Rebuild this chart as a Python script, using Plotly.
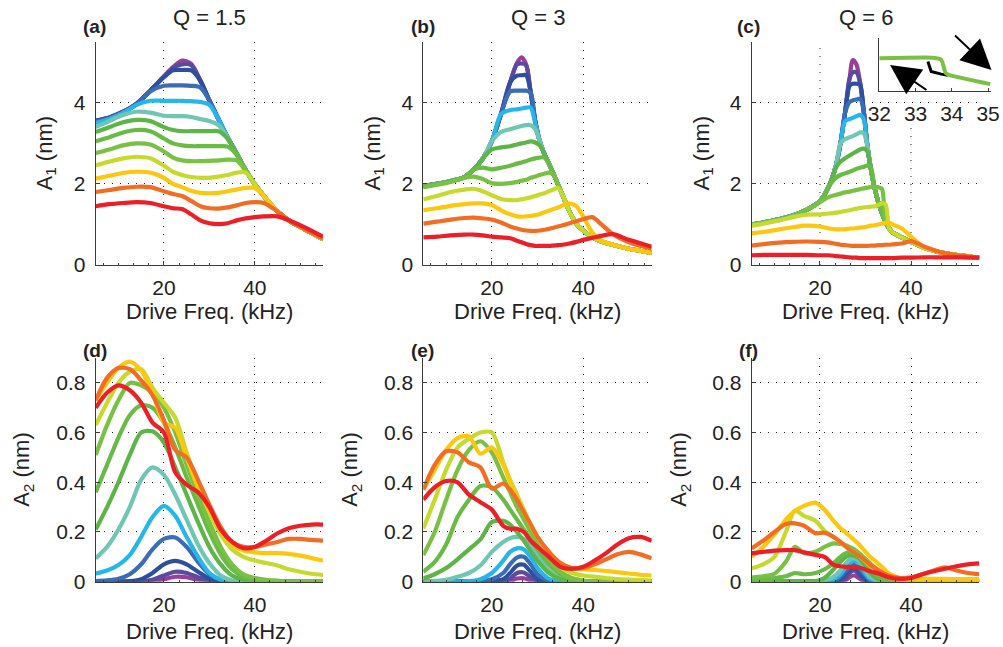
import plotly.graph_objects as go

# ---------------- data ----------------
colors = ["#9a3f98", "#5b4ba0", "#2e4f9e", "#3b6cb6", "#27b6ea", "#6fc6b5",
          "#5db547", "#69bb45", "#79c143", "#c6da2d", "#fec70f", "#f36c23", "#ec1f26"]
curve_names = ["purple", "violet", "dark blue", "blue", "light blue", "teal",
               "green 1", "green 2", "green 3", "yellow-green", "yellow", "orange", "red"]

# (a) A1, Q = 1.5
x_a = [5, 8, 11, 14, 17, 20, 22, 24, 26, 28, 30, 32, 34, 36, 38, 40, 42, 45, 48, 51, 55]
a_curves = [
    [3.56, 3.64, 3.78, 3.98, 4.3, 4.65, 4.88, 5.04, 4.96, 4.55, 4.06, 3.6, 3.15, 2.75, 2.34, 1.99, 1.7, 1.32, 1.06, 0.88, 0.64],
    [3.56, 3.64, 3.78, 3.98, 4.3, 4.65, 4.86, 4.95, 4.93, 4.55, 4.06, 3.6, 3.15, 2.75, 2.34, 1.99, 1.7, 1.32, 1.06, 0.88, 0.64],
    [3.55, 3.63, 3.77, 3.97, 4.3, 4.63, 4.8, 4.81, 4.8, 4.55, 4.06, 3.6, 3.15, 2.75, 2.34, 1.99, 1.7, 1.32, 1.06, 0.88, 0.64],
    [3.54, 3.62, 3.76, 3.96, 4.28, 4.42, 4.43, 4.43, 4.42, 4.38, 4.06, 3.6, 3.15, 2.75, 2.34, 1.99, 1.7, 1.32, 1.06, 0.88, 0.64],
    [3.5, 3.6, 3.75, 3.95, 4.05, 4.05, 4.05, 4.05, 4.04, 4.02, 3.95, 3.6, 3.15, 2.75, 2.34, 1.99, 1.7, 1.32, 1.06, 0.88, 0.64],
    [3.4, 3.55, 3.7, 3.78, 3.76, 3.68, 3.67, 3.67, 3.65, 3.6, 3.55, 3.45, 3.15, 2.75, 2.34, 1.99, 1.7, 1.32, 1.06, 0.88, 0.64],
    [3.28, 3.4, 3.52, 3.58, 3.55, 3.4, 3.33, 3.3, 3.3, 3.3, 3.3, 3.3, 3.12, 2.75, 2.34, 1.99, 1.7, 1.32, 1.06, 0.88, 0.64],
    [3.05, 3.15, 3.27, 3.33, 3.3, 3.12, 3.0, 2.95, 2.93, 2.93, 2.93, 2.93, 2.92, 2.72, 2.34, 1.99, 1.7, 1.32, 1.06, 0.88, 0.64],
    [2.76, 2.85, 2.95, 3.0, 2.97, 2.8, 2.65, 2.58, 2.56, 2.56, 2.57, 2.58, 2.6, 2.58, 2.32, 1.99, 1.7, 1.32, 1.06, 0.88, 0.64],
    [2.46, 2.55, 2.63, 2.67, 2.63, 2.45, 2.3, 2.22, 2.17, 2.15, 2.15, 2.18, 2.22, 2.28, 2.28, 1.99, 1.7, 1.32, 1.06, 0.88, 0.64],
    [2.13, 2.2, 2.27, 2.3, 2.28, 2.15, 2.0, 1.92, 1.83, 1.78, 1.77, 1.78, 1.82, 1.86, 1.9, 1.9, 1.7, 1.32, 1.06, 0.88, 0.64],
    [1.8, 1.85, 1.9, 1.93, 1.92, 1.82, 1.75, 1.7, 1.58, 1.45, 1.4, 1.39, 1.42, 1.47, 1.53, 1.55, 1.53, 1.32, 1.06, 0.88, 0.65],
    [1.45, 1.5, 1.53, 1.55, 1.53, 1.45, 1.4, 1.38, 1.25, 1.1, 1.03, 1.01, 1.03, 1.1, 1.15, 1.18, 1.2, 1.2, 1.08, 0.93, 0.7],
]

# (b) A1, Q = 3
x_b = [5, 8, 11, 14, 16, 18, 20, 22, 24, 25.5, 26.5, 27.5, 28.5, 29.5, 30.5, 31.5, 32.5, 33.5, 34.5, 35.5, 37, 38.5, 40, 42, 44, 46.5, 50, 55]
b_curves = [
    [1.95, 2.0, 2.07, 2.17, 2.35, 2.62, 3.05, 3.72, 4.5, 4.98, 5.12, 4.95, 4.25, 3.55, 3.05, 2.74, 2.5, 2.25, 1.98, 1.72, 1.32, 1.02, 0.85, 0.68, 0.58, 0.5, 0.4, 0.3],
    [1.95, 2.0, 2.07, 2.17, 2.35, 2.62, 3.05, 3.72, 4.5, 4.95, 4.97, 4.93, 4.25, 3.55, 3.05, 2.74, 2.5, 2.25, 1.98, 1.72, 1.32, 1.02, 0.85, 0.68, 0.58, 0.5, 0.4, 0.3],
    [1.95, 2.0, 2.07, 2.17, 2.35, 2.62, 3.05, 3.72, 4.5, 4.67, 4.68, 4.68, 4.28, 3.55, 3.05, 2.74, 2.5, 2.25, 1.98, 1.72, 1.32, 1.02, 0.85, 0.68, 0.58, 0.5, 0.4, 0.3],
    [1.95, 2.0, 2.07, 2.17, 2.35, 2.62, 3.05, 3.72, 4.28, 4.3, 4.3, 4.3, 4.25, 3.55, 3.05, 2.74, 2.5, 2.25, 1.98, 1.72, 1.32, 1.02, 0.85, 0.68, 0.58, 0.5, 0.4, 0.3],
    [1.94, 2.0, 2.07, 2.17, 2.35, 2.62, 3.05, 3.72, 3.82, 3.84, 3.86, 3.88, 3.88, 3.5, 3.05, 2.74, 2.5, 2.25, 1.98, 1.72, 1.32, 1.02, 0.85, 0.68, 0.58, 0.5, 0.4, 0.3],
    [1.94, 2.0, 2.07, 2.17, 2.35, 2.62, 3.05, 3.28, 3.35, 3.4, 3.43, 3.45, 3.45, 3.35, 3.05, 2.74, 2.5, 2.25, 1.98, 1.72, 1.32, 1.02, 0.85, 0.68, 0.58, 0.5, 0.4, 0.3],
    [1.94, 2.0, 2.07, 2.17, 2.35, 2.62, 2.85, 2.9, 2.93, 2.97, 3.0, 3.02, 3.05, 3.02, 2.95, 2.74, 2.5, 2.25, 1.98, 1.72, 1.32, 1.02, 0.85, 0.68, 0.58, 0.5, 0.4, 0.3],
    [1.93, 1.99, 2.06, 2.17, 2.35, 2.4, 2.36, 2.4, 2.45, 2.5, 2.53, 2.56, 2.6, 2.63, 2.65, 2.65, 2.5, 2.25, 1.98, 1.72, 1.32, 1.02, 0.85, 0.68, 0.58, 0.5, 0.4, 0.3],
    [1.92, 1.98, 2.05, 2.15, 2.18, 2.12, 2.02, 2.0, 2.02, 2.05, 2.08, 2.1, 2.15, 2.18, 2.22, 2.25, 2.28, 2.22, 1.98, 1.72, 1.32, 1.02, 0.85, 0.68, 0.58, 0.5, 0.4, 0.3],
    [1.62, 1.7, 1.8, 1.86, 1.88, 1.82, 1.72, 1.63, 1.6, 1.6, 1.62, 1.64, 1.67, 1.7, 1.74, 1.77, 1.82, 1.86, 1.9, 1.72, 1.32, 1.02, 0.85, 0.68, 0.58, 0.5, 0.4, 0.3],
    [1.35, 1.4, 1.46, 1.5, 1.52, 1.52, 1.48, 1.35, 1.25, 1.2, 1.19, 1.2, 1.21, 1.23, 1.26, 1.3, 1.34, 1.38, 1.42, 1.47, 1.52, 1.45, 1.2, 0.8, 0.6, 0.5, 0.4, 0.3],
    [1.02, 1.07, 1.12, 1.16, 1.17, 1.15, 1.12, 1.05, 0.95, 0.9, 0.87, 0.85, 0.84, 0.84, 0.85, 0.87, 0.89, 0.92, 0.95, 0.98, 1.03, 1.08, 1.13, 1.18, 1.0, 0.76, 0.56, 0.4],
    [0.68, 0.7, 0.73, 0.75, 0.75, 0.73, 0.7, 0.68, 0.66, 0.6, 0.56, 0.52, 0.49, 0.47, 0.47, 0.47, 0.47, 0.48, 0.49, 0.5, 0.53, 0.57, 0.62, 0.67, 0.72, 0.76, 0.62, 0.45],
]

# (c) A1, Q = 6
x_c = [5, 8, 11, 14, 17, 20, 22, 23.5, 24.5, 25.5, 26.5, 27.2, 28, 28.8, 29.6, 30.4, 31.2, 32, 32.8, 33.6, 34.4, 35.2, 36, 38, 40, 43, 47, 51, 55]
c_curves = [
    [1.0, 1.06, 1.13, 1.22, 1.36, 1.58, 1.95, 2.45, 3.0, 3.75, 4.6, 5.05, 4.95, 4.5, 3.8, 2.95, 2.35, 1.9, 1.55, 1.28, 1.06, 0.9, 0.8, 0.68, 0.57, 0.42, 0.3, 0.23, 0.18],
    [1.0, 1.06, 1.13, 1.22, 1.36, 1.58, 1.95, 2.45, 3.0, 3.75, 4.6, 4.75, 4.75, 4.5, 3.8, 2.95, 2.35, 1.9, 1.55, 1.28, 1.06, 0.9, 0.8, 0.68, 0.57, 0.42, 0.3, 0.23, 0.18],
    [1.0, 1.06, 1.13, 1.22, 1.36, 1.58, 1.95, 2.45, 3.0, 3.75, 4.42, 4.47, 4.47, 4.45, 3.8, 2.95, 2.35, 1.9, 1.55, 1.28, 1.06, 0.9, 0.8, 0.68, 0.57, 0.42, 0.3, 0.23, 0.18],
    [1.0, 1.06, 1.13, 1.22, 1.36, 1.58, 1.95, 2.45, 3.0, 3.75, 4.02, 4.06, 4.08, 4.1, 3.8, 2.95, 2.35, 1.9, 1.55, 1.28, 1.06, 0.9, 0.8, 0.68, 0.57, 0.42, 0.3, 0.23, 0.18],
    [1.0, 1.06, 1.13, 1.22, 1.36, 1.58, 1.95, 2.45, 3.0, 3.55, 3.6, 3.63, 3.67, 3.7, 3.6, 2.95, 2.35, 1.9, 1.55, 1.28, 1.06, 0.9, 0.8, 0.68, 0.57, 0.42, 0.3, 0.23, 0.18],
    [1.0, 1.06, 1.13, 1.22, 1.36, 1.58, 1.95, 2.45, 3.0, 3.1, 3.15, 3.18, 3.22, 3.27, 3.25, 2.95, 2.35, 1.9, 1.55, 1.28, 1.06, 0.9, 0.8, 0.68, 0.57, 0.42, 0.3, 0.23, 0.18],
    [0.99, 1.05, 1.12, 1.21, 1.35, 1.57, 1.95, 2.4, 2.55, 2.63, 2.7, 2.75, 2.8, 2.85, 2.87, 2.8, 2.35, 1.9, 1.55, 1.28, 1.06, 0.9, 0.8, 0.68, 0.57, 0.42, 0.3, 0.23, 0.18],
    [0.99, 1.05, 1.12, 1.21, 1.35, 1.57, 1.95, 2.15, 2.22, 2.26, 2.3, 2.33, 2.37, 2.4, 2.42, 2.45, 2.4, 1.9, 1.55, 1.28, 1.06, 0.9, 0.8, 0.68, 0.57, 0.42, 0.3, 0.23, 0.18],
    [0.98, 1.04, 1.11, 1.2, 1.36, 1.55, 1.68, 1.73, 1.76, 1.79, 1.81, 1.83, 1.85, 1.87, 1.89, 1.91, 1.92, 1.92, 1.92, 1.88, 1.06, 0.9, 0.8, 0.68, 0.57, 0.42, 0.3, 0.23, 0.18],
    [0.97, 1.03, 1.1, 1.18, 1.24, 1.25, 1.27, 1.29, 1.31, 1.33, 1.35, 1.37, 1.39, 1.41, 1.42, 1.43, 1.44, 1.45, 1.48, 1.52, 1.5, 0.9, 0.8, 0.68, 0.57, 0.42, 0.3, 0.23, 0.18],
    [0.78, 0.82, 0.88, 0.93, 0.97, 0.95, 0.9, 0.88, 0.88, 0.88, 0.9, 0.9, 0.91, 0.92, 0.93, 0.95, 0.97, 0.98, 1.0, 1.02, 1.04, 1.05, 1.0, 0.9, 0.7, 0.42, 0.3, 0.23, 0.18],
    [0.48, 0.52, 0.55, 0.57, 0.58, 0.57, 0.55, 0.52, 0.5, 0.49, 0.48, 0.47, 0.47, 0.47, 0.47, 0.47, 0.48, 0.48, 0.49, 0.49, 0.5, 0.5, 0.51, 0.53, 0.59, 0.45, 0.3, 0.23, 0.18],
    [0.24, 0.25, 0.25, 0.25, 0.25, 0.24, 0.24, 0.22, 0.21, 0.2, 0.19, 0.18, 0.18, 0.17, 0.17, 0.17, 0.17, 0.17, 0.17, 0.17, 0.17, 0.17, 0.17, 0.18, 0.18, 0.19, 0.19, 0.19, 0.18],
]

# (d) A2, Q = 1.5
x_d = [5, 7.5, 10, 12.5, 15, 17.5, 20, 22.5, 25, 27.5, 30, 32.5, 35, 37.5, 40, 42.5, 45, 47.5, 50, 52.5, 55]
d_curves = [
    [0, 0, 0, 0, 0, 0.003, 0.01, 0.02, 0.018, 0.008, 0.002, 0, 0, 0, 0, 0, 0, 0, 0, 0, 0],
    [0, 0, 0, 0, 0.002, 0.008, 0.025, 0.04, 0.035, 0.018, 0.005, 0, 0, 0, 0, 0, 0, 0, 0, 0, 0],
    [0, 0, 0, 0.002, 0.01, 0.035, 0.07, 0.084, 0.07, 0.04, 0.012, 0.002, 0, 0, 0, 0, 0, 0, 0, 0, 0],
    [0.002, 0.005, 0.012, 0.03, 0.07, 0.13, 0.172, 0.178, 0.14, 0.08, 0.03, 0.008, 0.001, 0, 0, 0, 0, 0, 0, 0, 0],
    [0.033, 0.045, 0.067, 0.107, 0.18, 0.26, 0.305, 0.265, 0.18, 0.1, 0.035, 0.008, 0, 0, 0, 0, 0, 0, 0, 0, 0],
    [0.094, 0.14, 0.21, 0.3, 0.41, 0.46, 0.43, 0.35, 0.25, 0.15, 0.075, 0.025, 0.005, 0, 0, 0, 0, 0, 0, 0, 0],
    [0.21, 0.3, 0.4, 0.51, 0.6, 0.605, 0.56, 0.46, 0.35, 0.24, 0.14, 0.07, 0.025, 0.008, 0.002, 0, 0, 0, 0, 0, 0],
    [0.36, 0.47, 0.58, 0.67, 0.71, 0.7, 0.64, 0.54, 0.42, 0.31, 0.2, 0.11, 0.05, 0.02, 0.008, 0.003, 0, 0, 0, 0, 0],
    [0.51, 0.63, 0.73, 0.8, 0.79, 0.76, 0.7, 0.6, 0.47, 0.35, 0.24, 0.14, 0.07, 0.03, 0.015, 0.008, 0.004, 0, 0, 0, 0],
    [0.63, 0.72, 0.8, 0.845, 0.855, 0.78, 0.72, 0.66, 0.52, 0.39, 0.28, 0.19, 0.13, 0.1, 0.085, 0.075, 0.065, 0.05, 0.04, 0.032, 0.027],
    [0.73, 0.8, 0.86, 0.885, 0.85, 0.76, 0.64, 0.62, 0.5, 0.38, 0.29, 0.21, 0.15, 0.125, 0.118, 0.115, 0.115, 0.112, 0.105, 0.095, 0.085],
    [0.73, 0.82, 0.86, 0.855, 0.81, 0.75, 0.65, 0.53, 0.5, 0.41, 0.31, 0.22, 0.16, 0.14, 0.14, 0.15, 0.16, 0.172, 0.172, 0.168, 0.165],
    [0.7, 0.76, 0.79, 0.77, 0.72, 0.64, 0.6, 0.44, 0.39, 0.36, 0.3, 0.21, 0.16, 0.135, 0.14, 0.165, 0.195, 0.215, 0.225, 0.23, 0.23],
]

# (e) A2, Q = 3
x_e = [5, 7.5, 10, 12.5, 15, 17.5, 20, 22.5, 24, 25.5, 27, 28.5, 30, 32.5, 35, 37.5, 40, 42.5, 45, 47.5, 50, 52.5, 55]
e_curves = [
    [0, 0, 0, 0, 0, 0, 0, 0, 0.003, 0.013, 0.014, 0.005, 0, 0, 0, 0, 0, 0, 0, 0, 0, 0, 0],
    [0, 0, 0, 0, 0, 0, 0, 0.002, 0.012, 0.035, 0.037, 0.018, 0.004, 0, 0, 0, 0, 0, 0, 0, 0, 0, 0],
    [0, 0, 0, 0, 0, 0, 0.002, 0.01, 0.035, 0.065, 0.068, 0.04, 0.012, 0, 0, 0, 0, 0, 0, 0, 0, 0, 0],
    [0, 0, 0, 0, 0, 0.002, 0.01, 0.035, 0.07, 0.097, 0.1, 0.07, 0.03, 0.004, 0, 0, 0, 0, 0, 0, 0, 0, 0],
    [0, 0, 0, 0, 0.002, 0.01, 0.035, 0.085, 0.12, 0.134, 0.13, 0.1, 0.055, 0.012, 0, 0, 0, 0, 0, 0, 0, 0, 0],
    [0, 0.003, 0.008, 0.02, 0.035, 0.065, 0.12, 0.16, 0.175, 0.18, 0.172, 0.152, 0.11, 0.045, 0.012, 0, 0, 0, 0, 0, 0, 0, 0],
    [0.013, 0.03, 0.055, 0.09, 0.13, 0.17, 0.24, 0.245, 0.23, 0.2, 0.165, 0.125, 0.085, 0.035, 0.01, 0.002, 0, 0, 0, 0, 0, 0, 0],
    [0.04, 0.08, 0.15, 0.26, 0.33, 0.385, 0.38, 0.33, 0.29, 0.25, 0.21, 0.17, 0.13, 0.07, 0.03, 0.01, 0.003, 0, 0, 0, 0, 0, 0],
    [0.107, 0.2, 0.33, 0.45, 0.53, 0.565, 0.52, 0.42, 0.36, 0.3, 0.25, 0.2, 0.155, 0.09, 0.04, 0.015, 0.005, 0, 0, 0, 0, 0, 0],
    [0.214, 0.33, 0.45, 0.54, 0.575, 0.6, 0.6, 0.48, 0.41, 0.35, 0.29, 0.23, 0.18, 0.11, 0.06, 0.035, 0.025, 0.02, 0.015, 0.01, 0.008, 0.006, 0.005],
    [0.37, 0.45, 0.53, 0.578, 0.585, 0.515, 0.54, 0.47, 0.4, 0.34, 0.28, 0.23, 0.18, 0.12, 0.075, 0.055, 0.05, 0.047, 0.043, 0.038, 0.033, 0.028, 0.025],
    [0.37, 0.47, 0.525, 0.52, 0.48, 0.46, 0.375, 0.395, 0.37, 0.33, 0.28, 0.23, 0.18, 0.12, 0.075, 0.055, 0.055, 0.07, 0.09, 0.11, 0.12, 0.11, 0.094],
    [0.33, 0.38, 0.405, 0.4, 0.35, 0.32, 0.29, 0.225, 0.213, 0.213, 0.2, 0.165, 0.14, 0.1, 0.06, 0.052, 0.06, 0.085, 0.115, 0.15, 0.175, 0.18, 0.165],
]

# (f) A2, Q = 6
x_f = [5, 7.5, 10, 12.5, 14.5, 16.5, 19, 21, 23, 24.5, 25.5, 26.5, 27.5, 28.5, 29.5, 31, 33, 35, 37.5, 40, 42.5, 45, 47.5, 50, 52.5, 55]
f_curves = [
    [0, 0, 0, 0, 0, 0, 0, 0, 0, 0, 0.005, 0.018, 0.025, 0.015, 0.004, 0, 0, 0, 0, 0, 0, 0, 0, 0, 0, 0],
    [0, 0, 0, 0, 0, 0, 0, 0, 0, 0.003, 0.012, 0.035, 0.045, 0.03, 0.01, 0, 0, 0, 0, 0, 0, 0, 0, 0, 0, 0],
    [0, 0, 0, 0, 0, 0, 0, 0, 0.002, 0.01, 0.03, 0.05, 0.06, 0.045, 0.02, 0.003, 0, 0, 0, 0, 0, 0, 0, 0, 0, 0],
    [0, 0, 0, 0, 0, 0, 0, 0, 0.005, 0.02, 0.04, 0.06, 0.072, 0.058, 0.032, 0.006, 0, 0, 0, 0, 0, 0, 0, 0, 0, 0],
    [0, 0, 0, 0, 0, 0, 0, 0.002, 0.01, 0.03, 0.055, 0.075, 0.085, 0.072, 0.045, 0.012, 0, 0, 0, 0, 0, 0, 0, 0, 0, 0],
    [0, 0, 0, 0, 0, 0, 0, 0.005, 0.02, 0.045, 0.07, 0.088, 0.095, 0.085, 0.06, 0.02, 0.003, 0, 0, 0, 0, 0, 0, 0, 0, 0],
    [0, 0, 0, 0, 0, 0, 0.002, 0.015, 0.05, 0.08, 0.097, 0.106, 0.104, 0.095, 0.075, 0.035, 0.008, 0, 0, 0, 0, 0, 0, 0, 0, 0],
    [0.007, 0.01, 0.015, 0.022, 0.035, 0.03, 0.035, 0.05, 0.075, 0.1, 0.113, 0.12, 0.118, 0.108, 0.093, 0.06, 0.02, 0.005, 0, 0, 0, 0, 0, 0, 0, 0],
    [0.017, 0.022, 0.032, 0.08, 0.14, 0.115, 0.12, 0.14, 0.154, 0.152, 0.148, 0.14, 0.13, 0.117, 0.1, 0.075, 0.04, 0.015, 0.004, 0, 0, 0, 0, 0, 0, 0],
    [0.054, 0.07, 0.1, 0.2, 0.285, 0.265, 0.245, 0.205, 0.18, 0.16, 0.143, 0.13, 0.118, 0.105, 0.09, 0.065, 0.04, 0.02, 0.01, 0.008, 0.007, 0.006, 0.005, 0.005, 0.005, 0.005],
    [0.1, 0.14, 0.19, 0.25, 0.285, 0.305, 0.318, 0.29, 0.245, 0.215, 0.2, 0.185, 0.168, 0.152, 0.13, 0.1, 0.07, 0.035, 0.015, 0.012, 0.012, 0.011, 0.011, 0.01, 0.01, 0.01],
    [0.134, 0.165, 0.2, 0.232, 0.235, 0.225, 0.195, 0.197, 0.18, 0.16, 0.145, 0.13, 0.118, 0.105, 0.092, 0.068, 0.045, 0.025, 0.015, 0.018, 0.03, 0.045, 0.058, 0.045, 0.035, 0.03],
    [0.114, 0.12, 0.125, 0.127, 0.127, 0.118, 0.108, 0.1, 0.068, 0.062, 0.06, 0.06, 0.06, 0.058, 0.052, 0.042, 0.032, 0.018, 0.011, 0.015, 0.03, 0.042, 0.052, 0.062, 0.07, 0.074],
]

# inset of (c): zoom on the jump of one curve
inset_x_green = [32.0, 33.48, 33.71, 33.83, 33.94, 35.06]
inset_y_green = [1.62, 1.63, 1.59, 1.34, 1.30, 1.13]
inset_x_black = [33.34, 33.43, 33.71, 33.89]
inset_y_black = [1.56, 1.37, 1.32, 1.30]

panel_letters = ["(a)", "(b)", "(c)", "(d)", "(e)", "(f)"]
q_titles = ["Q = 1.5", "Q = 3", "Q = 6"]
x_title = "Drive Freq. (kHz)"
y_titles = ["A<sub>1</sub> (nm)", "A<sub>2</sub> (nm)"]

# ---------------- layout helpers ----------------
W, H = 1003, 647
FONT = "Liberation Sans, Arial, Helvetica, sans-serif"
TXT = "#222222"
col_px = [(95.7, 323.0), (423.3, 651.7), (751.7, 979.3)]
row_px = [(42.0, 265.0), (358.0, 581.7)]


def dom_x(a, b):
    return [a / W, b / W]


def dom_y(t, b):
    return [1 - b / H, 1 - t / H]


fig = go.Figure()

panels = [(x_a, a_curves), (x_b, b_curves), (x_c, c_curves),
          (x_d, d_curves), (x_e, e_curves), (x_f, f_curves)]

for i, (xs, curves) in enumerate(panels):
    n = i + 1
    for col, name, ys in zip(colors, curve_names, curves):
        fig.add_trace(go.Scatter(
            x=xs, y=ys, mode="lines", name=name,
            line=dict(color=col, width=4.2, shape="spline", smoothing=0.8),
            xaxis=f"x{n}", yaxis=f"y{n}", showlegend=False, hoverinfo="skip"))

# inset traces
fig.add_trace(go.Scatter(x=inset_x_black, y=inset_y_black, mode="lines",
                         line=dict(color="black", width=3), xaxis="x7", yaxis="y7",
                         showlegend=False, hoverinfo="skip"))
fig.add_trace(go.Scatter(x=inset_x_green, y=inset_y_green, mode="lines",
                         line=dict(color="#7ac143", width=4, shape="spline", smoothing=0.5),
                         xaxis="x7", yaxis="y7", showlegend=False, hoverinfo="skip"))

axis_line = "#3c3c3c"
GRID_DASH = "1px,7px"
common = dict(showline=True, linecolor=axis_line, linewidth=1, ticks="inside", ticklen=4,
              tickcolor=axis_line, showgrid=True, gridcolor="#222222", gridwidth=1,
              griddash=GRID_DASH, zeroline=False, mirror=False, automargin=False,
              tickfont=dict(family=FONT, size=21, color=TXT))

layout = dict(width=W, height=H, margin=dict(l=0, r=0, t=0, b=0, pad=0, autoexpand=False),
              autosize=False, paper_bgcolor="white", plot_bgcolor="white", showlegend=False)

shapes = []
for i in range(6):
    n = i + 1
    r, c = divmod(i, 3)
    xa = dict(common)
    xa.update(domain=dom_x(*col_px[c]), anchor=f"y{n}", range=[5, 55],
              tickvals=[20, 40], ticklabelstandoff=4,
              minor=dict(ticks="inside", ticklen=2, tickcolor=axis_line,
                         dtick=20 / 6, tick0=0, showgrid=False))
    if n == 3:
        # vertical grid of panel (c) drawn as shapes so that it stops below the inset
        xa["showgrid"] = False
        for gx, gtop in [(20, 5.5), (40, 3.55)]:
            shapes.append(dict(type="line", xref="x3", yref="y3", x0=gx, x1=gx, y0=0, y1=gtop,
                               line=dict(color="#222222", width=1, dash=GRID_DASH), layer="below"))
    ya = dict(common)
    if r == 0:
        ya.update(range=[0, 5.5], tickvals=[0, 2, 4])
    else:
        ya.update(range=[0, 0.9], tickvals=[0, 0.2, 0.4, 0.6, 0.8],
                  ticktext=["0", "0.2", "0.4", "0.6", "0.8"])
    ya.update(domain=dom_y(*row_px[r]), anchor=f"x{n}", ticklabelstandoff=5)
    key = "" if n == 1 else str(n)
    layout["xaxis" + key] = xa
    layout["yaxis" + key] = ya

# inset axes
inset_l, inset_r, inset_t, inset_b = 879.3, 991.0, 38.3, 91.0
layout["xaxis7"] = dict(domain=dom_x(inset_l, inset_r), anchor="y7", range=[32, 35.08],
                        showline=True, linecolor=axis_line, linewidth=1, ticks="inside",
                        ticklen=3, tickcolor=axis_line, tickvals=[32, 33, 34, 35],
                        showgrid=False, zeroline=False, ticklabelstandoff=4, automargin=False,
                        tickfont=dict(family=FONT, size=21, color=TXT))
layout["yaxis7"] = dict(domain=dom_y(inset_t, inset_b), anchor="x7", range=[1.0, 2.0],
                        showline=True, linecolor=axis_line, linewidth=1, ticks="",
                        showticklabels=False, showgrid=False, zeroline=False, automargin=False)
layout["shapes"] = shapes

ann = []
# panel letters
letter_pos = [(94.5, 26), (422.5, 26), (748.5, 26), (95, 350), (422.5, 350), (748, 350)]
for t, (px, py) in zip(panel_letters, letter_pos):
    ann.append(dict(text=f"<b>{t}</b>", x=px / W, y=1 - py / H, xref="paper", yref="paper",
                    showarrow=False, xanchor="center", yanchor="middle",
                    font=dict(family=FONT, size=19, color=TXT)))
# Q titles
for c, t in enumerate(q_titles):
    cx = (col_px[c][0] + col_px[c][1]) / 2
    ann.append(dict(text=t, x=cx / W, y=1 - 17 / H, xref="paper", yref="paper",
                    showarrow=False, xanchor="center", yanchor="middle",
                    font=dict(family=FONT, size=22, color=TXT)))
# x titles
for r, ty in enumerate([311, 631]):
    for c in range(3):
        cx = (col_px[c][0] + col_px[c][1]) / 2
        ann.append(dict(text=x_title, x=cx / W, y=1 - ty / H, xref="paper", yref="paper",
                        showarrow=False, xanchor="center", yanchor="middle",
                        font=dict(family=FONT, size=22, color=TXT)))
# y titles
ytitle_x = [[45, 373, 702], [23, 351, 680]]
for r in range(2):
    cy = (row_px[r][0] + row_px[r][1]) / 2
    for c in range(3):
        ann.append(dict(text=y_titles[r], x=ytitle_x[r][c] / W, y=1 - cy / H,
                        xref="paper", yref="paper", showarrow=False, textangle=-90,
                        xanchor="center", yanchor="middle",
                        font=dict(family=FONT, size=22, color=TXT)))
# inset arrows
ann.append(dict(x=890 / W, y=1 - 65 / H, xref="paper", yref="paper", text="",
                showarrow=True, ax=38, ay=26, arrowhead=2, arrowsize=3,
                arrowwidth=2, arrowcolor="black"))
ann.append(dict(x=991.5 / W, y=1 - 70 / H, xref="paper", yref="paper", text="",
                showarrow=True, ax=-38, ay=-36, arrowhead=2, arrowsize=3,
                arrowwidth=2, arrowcolor="black"))
layout["annotations"] = ann

fig.update_layout(**layout)
fig.write_html("out.html")
